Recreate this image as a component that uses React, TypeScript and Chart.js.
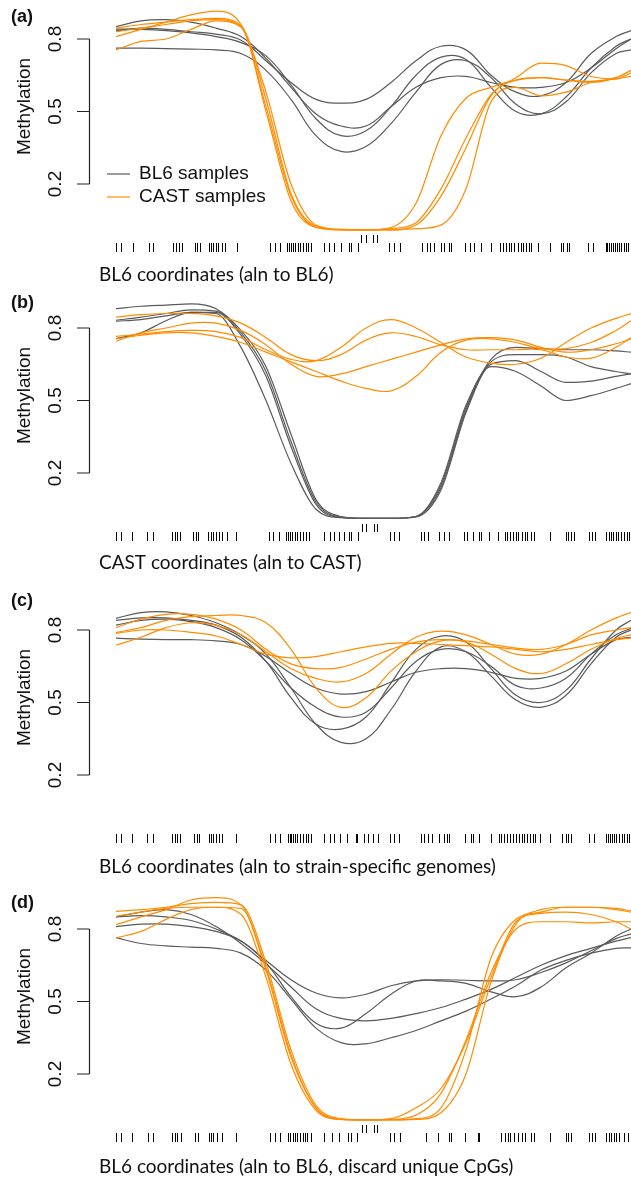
import React, { useEffect, useRef } from "react";
import { Chart, registerables } from "chart.js";
Chart.register(...registerables);

// ---- data ----
// genomic position (relative, bp-like units) of the smoothed estimates
const POS = [0, 25, 50, 75, 100, 125, 150, 175, 200, 225, 250, 275, 300, 325, 350, 375, 400, 425, 450, 475, 500, 515];
const Y_TICKS = [0.2, 0.5, 0.8];
const Y_TITLE = "Methylation";
const LEGEND_LABELS = ["BL6 samples", "CAST samples"];
const PANEL_LETTERS = ["(a)", "(b)", "(c)", "(d)"];
const X_TITLES = [
  "BL6 coordinates (aln to BL6)",
  "CAST coordinates (aln to CAST)",
  "BL6 coordinates (aln to strain-specific genomes)",
  "BL6 coordinates (aln to BL6, discard unique CpGs)",
];

// panel (a)
const A_BL6 = [
  [0.834, 0.845, 0.84, 0.83, 0.82, 0.795, 0.71, 0.62, 0.55, 0.535, 0.55, 0.62, 0.71, 0.77, 0.755, 0.65, 0.58, 0.565, 0.62, 0.74, 0.81, 0.835],
  [0.851, 0.875, 0.88, 0.87, 0.845, 0.81, 0.72, 0.6, 0.49, 0.44, 0.44, 0.52, 0.6, 0.64, 0.645, 0.62, 0.6, 0.6, 0.62, 0.68, 0.76, 0.8],
  [0.841, 0.84, 0.835, 0.825, 0.81, 0.785, 0.73, 0.61, 0.47, 0.4, 0.42, 0.52, 0.65, 0.725, 0.715, 0.6, 0.5, 0.49, 0.56, 0.68, 0.77, 0.8],
  [0.762, 0.762, 0.76, 0.758, 0.755, 0.74, 0.67, 0.55, 0.4, 0.335, 0.355, 0.45, 0.58, 0.695, 0.71, 0.64, 0.53, 0.49, 0.54, 0.66, 0.74, 0.755],
];
const A_CAST = [
  [0.81, 0.84, 0.87, 0.9, 0.915, 0.86, 0.58, 0.2, 0.03, 0.012, 0.01, 0.02, 0.12, 0.4, 0.555, 0.6, 0.63, 0.64, 0.63, 0.625, 0.64, 0.67],
  [0.845, 0.86, 0.87, 0.88, 0.885, 0.855, 0.55, 0.16, 0.025, 0.012, 0.01, 0.015, 0.04, 0.18, 0.39, 0.57, 0.64, 0.7, 0.69, 0.645, 0.635, 0.66],
  [0.83, 0.845, 0.86, 0.875, 0.88, 0.85, 0.52, 0.15, 0.02, 0.01, 0.01, 0.01, 0.03, 0.15, 0.35, 0.565, 0.63, 0.64, 0.63, 0.62, 0.64, 0.67],
  [0.755, 0.79, 0.8, 0.84, 0.875, 0.85, 0.5, 0.13, 0.02, 0.01, 0.01, 0.01, 0.015, 0.03, 0.18, 0.54, 0.6, 0.565, 0.58, 0.62, 0.635, 0.645],
];
// panel (b)
const B_BL6 = [
  [0.88, 0.89, 0.895, 0.9, 0.88, 0.79, 0.64, 0.36, 0.09, 0.02, 0.012, 0.012, 0.02, 0.15, 0.47, 0.67, 0.72, 0.715, 0.71, 0.71, 0.705, 0.7],
  [0.832, 0.845, 0.86, 0.875, 0.87, 0.78, 0.62, 0.33, 0.08, 0.018, 0.012, 0.012, 0.02, 0.14, 0.46, 0.66, 0.69, 0.69, 0.68, 0.64, 0.62, 0.61],
  [0.828, 0.835, 0.85, 0.865, 0.865, 0.77, 0.6, 0.31, 0.07, 0.016, 0.012, 0.012, 0.018, 0.13, 0.45, 0.65, 0.665, 0.62, 0.575, 0.58, 0.6, 0.61],
  [0.756, 0.78, 0.83, 0.865, 0.86, 0.72, 0.5, 0.24, 0.05, 0.015, 0.012, 0.012, 0.02, 0.16, 0.48, 0.64, 0.62, 0.56, 0.5, 0.52, 0.55, 0.57],
];
const B_CAST = [
  [0.765, 0.775, 0.785, 0.79, 0.785, 0.76, 0.71, 0.67, 0.665, 0.72, 0.8, 0.835, 0.8, 0.74, 0.68, 0.655, 0.65, 0.675, 0.74, 0.8, 0.84, 0.86],
  [0.845, 0.855, 0.86, 0.86, 0.85, 0.82, 0.76, 0.69, 0.665, 0.69, 0.75, 0.78, 0.765, 0.73, 0.71, 0.71, 0.71, 0.71, 0.68, 0.675, 0.72, 0.76],
  [0.755, 0.77, 0.78, 0.78, 0.765, 0.74, 0.7, 0.66, 0.62, 0.58, 0.55, 0.54, 0.6, 0.7, 0.75, 0.755, 0.74, 0.715, 0.715, 0.74, 0.79, 0.83],
  [0.745, 0.78, 0.8, 0.82, 0.82, 0.79, 0.73, 0.65, 0.6, 0.61, 0.64, 0.67, 0.7, 0.73, 0.755, 0.76, 0.75, 0.72, 0.7, 0.71, 0.735, 0.755],
];
// panel (c)
const C_BL6 = [
  [0.848, 0.872, 0.875, 0.86, 0.83, 0.78, 0.7, 0.56, 0.41, 0.335, 0.35, 0.47, 0.63, 0.73, 0.71, 0.61, 0.51, 0.48, 0.53, 0.66, 0.77, 0.8],
  [0.84, 0.85, 0.85, 0.84, 0.82, 0.77, 0.67, 0.52, 0.41, 0.39, 0.44, 0.58, 0.72, 0.775, 0.75, 0.64, 0.53, 0.5, 0.55, 0.68, 0.8, 0.84],
  [0.82, 0.84, 0.845, 0.835, 0.81, 0.76, 0.67, 0.56, 0.48, 0.44, 0.46, 0.56, 0.67, 0.72, 0.71, 0.65, 0.57, 0.56, 0.6, 0.7, 0.78, 0.807],
  [0.766, 0.762, 0.76, 0.76, 0.755, 0.74, 0.69, 0.62, 0.56, 0.535, 0.545, 0.585, 0.625, 0.64, 0.64, 0.625, 0.6, 0.6, 0.63, 0.7, 0.76, 0.77],
];
const C_CAST = [
  [0.79, 0.81, 0.84, 0.855, 0.86, 0.86, 0.83, 0.72, 0.56, 0.48, 0.52, 0.63, 0.71, 0.755, 0.75, 0.7, 0.64, 0.62, 0.66, 0.72, 0.765, 0.78],
  [0.737, 0.77, 0.81, 0.83, 0.82, 0.78, 0.71, 0.64, 0.6, 0.585, 0.62, 0.7, 0.77, 0.795, 0.78, 0.74, 0.7, 0.7, 0.74, 0.8, 0.85, 0.873],
  [0.81, 0.845, 0.865, 0.865, 0.845, 0.8, 0.72, 0.66, 0.64, 0.645, 0.68, 0.72, 0.75, 0.76, 0.755, 0.74, 0.725, 0.72, 0.74, 0.78, 0.8, 0.81],
  [0.786, 0.8, 0.8, 0.79, 0.775, 0.74, 0.7, 0.685, 0.69, 0.71, 0.73, 0.745, 0.745, 0.74, 0.735, 0.73, 0.72, 0.71, 0.72, 0.74, 0.76, 0.766],
];
// panel (d)
const D_BL6 = [
  [0.85, 0.87, 0.88, 0.86, 0.81, 0.74, 0.655, 0.56, 0.47, 0.43, 0.42, 0.43, 0.45, 0.475, 0.51, 0.55, 0.6, 0.65, 0.69, 0.72, 0.75, 0.764],
  [0.85, 0.855, 0.85, 0.835, 0.8, 0.75, 0.67, 0.59, 0.535, 0.515, 0.53, 0.565, 0.585, 0.59, 0.588, 0.585, 0.59, 0.62, 0.66, 0.71, 0.76, 0.78],
  [0.81, 0.82, 0.82, 0.81, 0.79, 0.75, 0.66, 0.52, 0.41, 0.39, 0.45, 0.53, 0.585, 0.585, 0.575, 0.54, 0.52, 0.56, 0.64, 0.7, 0.77, 0.8],
  [0.764, 0.74, 0.73, 0.725, 0.72, 0.7, 0.63, 0.51, 0.39, 0.33, 0.325, 0.35, 0.38, 0.42, 0.46, 0.51, 0.565, 0.63, 0.67, 0.7, 0.72, 0.722],
];
const D_CAST = [
  [0.818, 0.85, 0.88, 0.92, 0.93, 0.9, 0.63, 0.27, 0.06, 0.012, 0.01, 0.01, 0.012, 0.04, 0.2, 0.58, 0.82, 0.88, 0.89, 0.89, 0.88, 0.87],
  [0.873, 0.88, 0.89, 0.905, 0.91, 0.9, 0.66, 0.3, 0.07, 0.015, 0.01, 0.01, 0.015, 0.06, 0.3, 0.68, 0.84, 0.87, 0.89, 0.89, 0.885, 0.875],
  [0.852, 0.87, 0.885, 0.89, 0.89, 0.885, 0.64, 0.28, 0.06, 0.012, 0.01, 0.012, 0.03, 0.12, 0.34, 0.62, 0.8, 0.83, 0.83, 0.825, 0.83, 0.83],
  [0.763, 0.79, 0.84, 0.88, 0.89, 0.86, 0.6, 0.24, 0.05, 0.012, 0.01, 0.015, 0.06, 0.14, 0.33, 0.6, 0.83, 0.865, 0.87, 0.86, 0.83, 0.8],
];

// CpG positions (rug)
const RUG_A = [0, 5, 17, 33, 37, 57, 60, 63, 66, 79, 81, 84, 93, 95, 97, 100, 102, 106, 109, 121, 154, 159, 164, 171, 173, 175, 177, 179, 182, 184, 187, 190, 192, 195, 208, 213, 218, 225, 233, 235, 242, 273, 278, 284, 306, 311, 314, 318, 325, 328, 333, 335, 349, 354, 358, 365, 375, 384, 387, 390, 393, 395, 398, 402, 405, 407, 410, 413, 415, 422, 434, 445, 447, 451, 453, 472, 477, 490, 491, 493, 495, 497, 499, 501, 503, 505, 508, 510, 512];
const RUG_A_INNER = [245, 250, 257, 261];
const RUG_B = [0, 5, 16, 31, 37, 56, 59, 61, 64, 77, 80, 82, 92, 95, 97, 100, 103, 106, 111, 120, 153, 157, 163, 170, 172, 174, 176, 179, 181, 184, 187, 190, 193, 208, 214, 218, 223, 228, 233, 235, 242, 274, 278, 283, 305, 308, 312, 323, 328, 333, 348, 351, 357, 363, 365, 373, 382, 389, 391, 394, 397, 400, 402, 406, 409, 411, 415, 418, 434, 450, 452, 455, 458, 473, 476, 479, 490, 493, 495, 497, 500, 502, 505, 508, 511, 513];
const RUG_B_INNER = [246, 250, 258, 261];
const RUG_C = [0, 5, 16, 31, 37, 56, 59, 61, 64, 78, 81, 83, 93, 95, 97, 100, 103, 106, 120, 154, 159, 164, 172, 174, 175, 177, 179, 181, 184, 187, 190, 192, 195, 208, 214, 218, 224, 231, 240, 241, 248, 252, 257, 262, 274, 278, 283, 305, 308, 312, 316, 323, 328, 331, 333, 349, 355, 357, 363, 375, 383, 385, 388, 391, 394, 397, 400, 403, 406, 408, 411, 414, 417, 419, 424, 434, 446, 450, 452, 455, 473, 478, 490, 492, 494, 496, 498, 500, 503, 506, 508, 511, 513];
const RUG_C_INNER: number[] = [];
const RUG_D = [0, 5, 16, 32, 37, 56, 59, 61, 65, 79, 82, 93, 95, 97, 101, 106, 120, 154, 159, 164, 172, 174, 177, 179, 181, 184, 187, 189, 191, 195, 208, 216, 223, 232, 235, 241, 274, 278, 284, 310, 322, 333, 335, 349, 362, 363, 385, 389, 392, 394, 398, 402, 406, 409, 415, 418, 434, 450, 452, 455, 473, 476, 479, 490, 493, 495, 498, 500, 503, 508, 512];
const RUG_D_INNER = [246, 250, 258, 261];

// ---- styles / layout ----
const GRAY = "#5a5a5a";
const ORANGE = "#ff8c00";
const CANVAS_W = 631;
const CANVAS_H = 300;
const PANEL_TOPS = [0, 289, 591, 890];
const LETTER_Y = [17, 14, 10, 13];
const XTITLE_Y = [275, 274, 276, 277];
const Y_MAX = 0.8 + 39 / (145 / 0.6);
const Y_MIN = 0.2 - 66 / (145 / 0.6);
const SANS = '"Liberation Sans", Arial, Helvetica, sans-serif';
const LABEL_FONT = 'Lato, "Open Sans", sans-serif';

type PanelSpec = {
  bl6: number[][];
  cast: number[][];
  rug: number[];
  inner: number[];
  idx: number;
  legend: boolean;
  steepBl6: boolean;
  steepCast: boolean;
};

const PANELS: PanelSpec[] = [
  { bl6: A_BL6, cast: A_CAST, rug: RUG_A, inner: RUG_A_INNER, idx: 0, legend: true, steepBl6: false, steepCast: true },
  { bl6: B_BL6, cast: B_CAST, rug: RUG_B, inner: RUG_B_INNER, idx: 1, legend: false, steepBl6: true, steepCast: false },
  { bl6: C_BL6, cast: C_CAST, rug: RUG_C, inner: RUG_C_INNER, idx: 2, legend: false, steepBl6: false, steepCast: false },
  { bl6: D_BL6, cast: D_CAST, rug: RUG_D, inner: RUG_D_INNER, idx: 3, legend: false, steepBl6: false, steepCast: true },
];

function lineStyle(color: string, steep: boolean) {
  return steep
    ? { borderColor: color, borderWidth: 1.2, pointRadius: 0, fill: false, cubicInterpolationMode: "monotone" }
    : { borderColor: color, borderWidth: 1.2, pointRadius: 0, fill: false, tension: 0.4 };
}

function Panel({ spec }: { spec: PanelSpec }) {
  const ref = useRef<HTMLCanvasElement | null>(null);
  useEffect(() => {
    if (!ref.current) return;
    const toPts = (vals: number[]) => vals.map((v, i) => ({ x: POS[i], y: v }));
    const datasets: any[] = [];
    spec.cast.forEach((s) => datasets.push({ data: toPts(s), ...lineStyle(ORANGE, spec.steepCast) }));
    spec.bl6.forEach((s) => datasets.push({ data: toPts(s), ...lineStyle(GRAY, spec.steepBl6) }));

    const decor = {
      id: "decor",
      afterDraw(chart: any) {
        const ctx = chart.ctx as CanvasRenderingContext2D;
        const xs = chart.scales.x;
        const ys = chart.scales.y;
        ctx.save();
        // y axis (R style: only spanning the ticks)
        const axX = 89.5;
        ctx.strokeStyle = "#222";
        ctx.lineWidth = 1.2;
        ctx.beginPath();
        const yTop = ys.getPixelForValue(Y_TICKS[Y_TICKS.length - 1]);
        const yBot = ys.getPixelForValue(Y_TICKS[0]);
        ctx.moveTo(axX, yTop);
        ctx.lineTo(axX, yBot);
        Y_TICKS.forEach((t) => {
          const y = ys.getPixelForValue(t);
          ctx.moveTo(axX, y);
          ctx.lineTo(axX - 12.5, y);
        });
        ctx.stroke();
        ctx.fillStyle = "#111";
        ctx.font = `19px ${SANS}`;
        ctx.textAlign = "center";
        ctx.textBaseline = "middle";
        Y_TICKS.forEach((t) => {
          const y = ys.getPixelForValue(t);
          ctx.save();
          ctx.translate(56, y);
          ctx.rotate(-Math.PI / 2);
          ctx.fillText(t.toFixed(1), 0, 0);
          ctx.restore();
        });
        // y title
        const mid = (yTop + yBot) / 2 - 5;
        ctx.save();
        ctx.translate(25, mid);
        ctx.rotate(-Math.PI / 2);
        ctx.fillText(Y_TITLE, 0, 0);
        ctx.restore();
        // panel letter
        ctx.textAlign = "left";
        ctx.font = `bold 18px ${SANS}`;
        ctx.fillText(PANEL_LETTERS[spec.idx], 11, LETTER_Y[spec.idx]);
        // rug
        const y08 = ys.getPixelForValue(0.8);
        ctx.strokeStyle = "#000";
        ctx.lineWidth = 1;
        ctx.beginPath();
        spec.rug.forEach((u) => {
          const px = Math.round(xs.getPixelForValue(u)) + 0.5;
          ctx.moveTo(px, y08 + 204);
          ctx.lineTo(px, y08 + 213);
        });
        spec.inner.forEach((u) => {
          const px = Math.round(xs.getPixelForValue(u)) + 0.5;
          ctx.moveTo(px, y08 + 196);
          ctx.lineTo(px, y08 + 204);
        });
        ctx.stroke();
        // x title
        ctx.font = `19px ${LABEL_FONT}`;
        ctx.fillStyle = "#111";
        ctx.textBaseline = "middle";
        ctx.fillText(X_TITLES[spec.idx], 99, XTITLE_Y[spec.idx]);
        // legend
        if (spec.legend) {
          const rows = [
            { c: GRAY, t: LEGEND_LABELS[0], y: y08 + 135 },
            { c: ORANGE, t: LEGEND_LABELS[1], y: y08 + 158 },
          ];
          ctx.font = `19px ${SANS}`;
          rows.forEach((r) => {
            ctx.strokeStyle = r.c;
            ctx.lineWidth = 1.2;
            ctx.beginPath();
            ctx.moveTo(107, r.y);
            ctx.lineTo(130, r.y);
            ctx.stroke();
            ctx.fillStyle = "#111";
            ctx.fillText(r.t, 139, r.y);
          });
        }
        ctx.restore();
      },
    };

    const chart = new Chart(ref.current, {
      type: "line",
      data: { datasets },
      options: {
        responsive: false,
        animation: false,
        devicePixelRatio: 1,
        layout: { padding: { left: 116, right: 0, top: 0, bottom: CANVAS_H - 250 } },
        scales: {
          x: { type: "linear", min: 0, max: 515, display: false },
          y: { type: "linear", min: Y_MIN, max: Y_MAX, display: false },
        },
        plugins: { legend: { display: false }, tooltip: { enabled: false } },
      },
      plugins: [decor],
    } as any);
    return () => chart.destroy();
  }, [spec]);
  return (
    <canvas
      ref={ref}
      width={CANVAS_W}
      height={CANVAS_H}
      style={{ position: "absolute", left: 0, top: PANEL_TOPS[spec.idx], width: CANVAS_W, height: CANVAS_H }}
    />
  );
}

export default function App() {
  return (
    <div style={{ position: "absolute", left: 0, top: 0, width: CANVAS_W, height: 1177, overflow: "hidden", background: "#fff" }}>
      {PANELS.map((p) => (
        <Panel key={p.idx} spec={p} />
      ))}
    </div>
  );
}
